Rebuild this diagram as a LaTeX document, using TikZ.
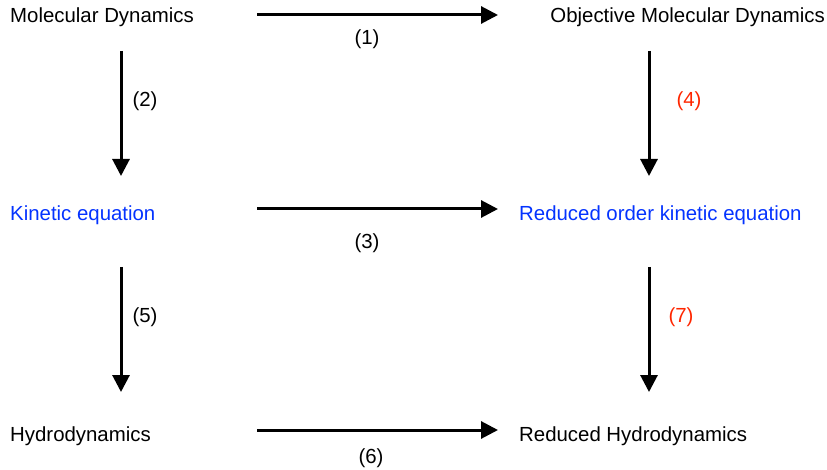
\documentclass[tikz,border=0pt]{standalone}
\usepackage{fontspec}
\setmainfont{Liberation Sans}
\usetikzlibrary{arrows.meta}
\definecolor{myblue}{HTML}{0433FF}
\definecolor{myred}{HTML}{FF2600}
\begin{document}
\begin{tikzpicture}[x=1pt,y=-1pt,
  lbl/.style={font=\fontsize{20.4}{24}\selectfont, inner sep=0pt, anchor=base west},
  num/.style={font=\fontsize{20.4}{24}\selectfont, inner sep=0pt},
  arr/.style={line width=3pt, -{Triangle[length=17pt,width=17pt]}}]
\useasboundingbox (0,0) rectangle (827,470);
% texts (baseline positions)
\node[lbl] (md) at (10,23) {Molecular Dynamics};
\node[lbl, anchor=base east] (omd) at (825,23) {Objective Molecular Dynamics};
\node[lbl, text=myblue] (ke) at (10,221) {Kinetic equation};
\node[lbl, text=myblue] (roke) at (519,221) {Reduced order kinetic equation};
\node[lbl] (hd) at (10,441) {Hydrodynamics};
\node[lbl] (rhd) at (519,441) {Reduced Hydrodynamics};
% arrow endpoints
\coordinate (a1s) at (257,15); \coordinate (a1e) at (498,15);
\coordinate (a3s) at (257,209); \coordinate (a3e) at (498,209);
\coordinate (a6s) at (257,430); \coordinate (a6e) at (498,430);
\coordinate (a2s) at (121,51); \coordinate (a2e) at (121,176);
\coordinate (a5s) at (121,267); \coordinate (a5e) at (121,392);
\coordinate (a4s) at (649,51); \coordinate (a4e) at (649,176);
\coordinate (a7s) at (649,267); \coordinate (a7e) at (649,392);
\draw[arr] (a1s) -- (a1e);
\draw[arr] (a3s) -- (a3e);
\draw[arr] (a6s) -- (a6e);
\draw[arr] (a2s) -- (a2e);
\draw[arr] (a5s) -- (a5e);
\draw[arr] (a4s) -- (a4e);
\draw[arr] (a7s) -- (a7e);
% labels
\node[num] (l1) at (367,39) {(1)};
\node[num] (l2) at (145,101) {(2)};
\node[num] (l3) at (367,243) {(3)};
\node[num, text=myred] (l4) at (689,101) {(4)};
\node[num] (l5) at (145,317) {(5)};
\node[num] (l6) at (371,458) {(6)};
\node[num, text=myred] (l7) at (681,317) {(7)};
\end{tikzpicture}
\end{document}
